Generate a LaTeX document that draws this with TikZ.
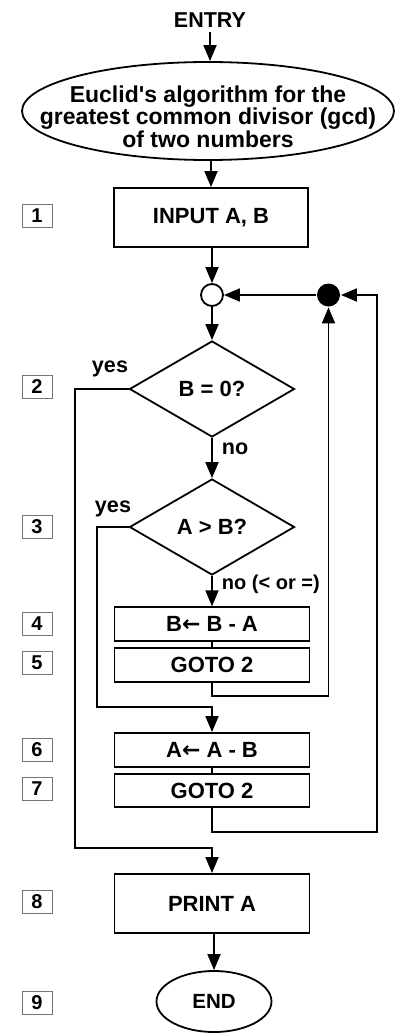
\documentclass[tikz,border=0pt]{standalone}
\usepackage{fontspec}
\setmainfont{Liberation Sans}
\newfontfamily\arrowfont{DejaVu Sans}
\usetikzlibrary{arrows.meta,shapes.geometric}
% leftwards assignment arrow used inside the step boxes
\newcommand{\assign}{{\arrowfont\bfseries ←}}
\begin{document}
\begin{tikzpicture}[x=1pt,y=-1pt,
  line width=1.8pt,
  every node/.style={font=\fontsize{22}{22}\selectfont\bfseries, inner sep=0pt},
  flow/.style={-{Triangle[length=16pt,width=13pt]}},
  stepbox/.style={draw, minimum width=195pt},
  decision/.style={diamond, draw, minimum width=165pt, minimum height=96pt, aspect=1.72},
  numtag/.style={draw=black!55, line width=1pt, minimum width=30pt, minimum height=23pt,
                 font=\fontsize{20}{20}\selectfont\bfseries},
  lbl/.style={font=\fontsize{21.6}{21.6}\selectfont\bfseries},
  ]
\useasboundingbox (0,0) rectangle (394,1033);

% start and title
\node[font=\fontsize{21.5}{21.5}\selectfont\bfseries] (entry) at (210,20) {ENTRY};
\node[ellipse, draw, minimum width=372pt, minimum height=98pt] (title) at (208,111) {};
\node[align=center, font=\fontsize{23}{21.5}\selectfont\bfseries] (titletext) at (208,116.5)
  {Euclid\textquotesingle s algorithm for the\\greatest common divisor (gcd)\\of two numbers};

% steps
\node[draw, minimum width=194pt, minimum height=59pt] (input) at (211,217.5) {INPUT A, B};
\node[circle, draw, minimum size=22pt] (j1) at (212,295) {};
\node[circle, fill, minimum size=23pt] (j2) at (328.5,295) {};
\node[decision] (d1) at (212,389) {B = 0?};
\node[decision] (d2) at (212,527) {A > B?};
\node[stepbox, minimum height=33.5pt] (b4) at (212,624) {B\assign\ B - A};
\node[stepbox, minimum height=33.5pt] (b5) at (212,665) {GOTO 2};
\node[stepbox, minimum height=34pt] (b6) at (212,750) {A\assign\ A - B};
\node[stepbox, minimum height=33pt] (b7) at (212,790.5) {GOTO 2};
\node[stepbox, minimum height=59pt] (b8) at (212,903.5) {PRINT A};
\node[ellipse, draw, minimum width=115pt, minimum height=61pt,
      font=\fontsize{20.5}{20.5}\selectfont\bfseries] (stop) at (214,1001.5) {END};

% branch labels
\node[lbl] (yes1) at (110,368.5) {yes};
\node[lbl] (yes2) at (113,509) {yes};
\node[lbl, anchor=west] (no1) at (221,448.5) {no};
\node[lbl, anchor=west, font=\fontsize{20}{20}\selectfont\bfseries] (no2) at (221,584) {no (< or =)};

% step numbers
\node[numtag] (n1) at (37,215.5) {1};
\node[numtag] (n2) at (37,387) {2};
\node[numtag] (n3) at (37,526.5) {3};
\node[numtag] (n4) at (37,624) {4};
\node[numtag] (n5) at (37,663) {5};
\node[numtag] (n6) at (37,749.5) {6};
\node[numtag] (n7) at (37,788.5) {7};
\node[numtag] (n8) at (37,901.5) {8};
\node[numtag] (n9) at (37,1003) {9};

% bend points of the loops
\coordinate (y1) at (75,848);
\coordinate (y2) at (97,707);
\coordinate (r1) at (328.5,696);
\coordinate (r2) at (377,832);

% connectors
\draw[flow, shorten <=4pt] (entry) -- (entry |- title.north);
\draw[flow] (input.north |- title.south) -- (input.north);
\draw[flow] (input.south -| j1) -- (j1);
\draw[flow] (j2) -- (j1);
\draw[flow] (j1) -- (d1);
\draw[flow] (d1) -- (d2);
\draw[flow] (d2) -- (b4);
\draw (b4) -- (b5);
\draw (b6) -- (b7);
\draw[flow] (d1.west) -| (y1) -| (b8.north);
\draw[flow] (d2.west) -| (y2) -| (b6.north);
\draw[flow] (b5.south) |- (r1) -- (j2);
\draw[flow] (b7.south) |- (r2) |- (j2);
\draw[flow] (b8.south -| stop) -- (stop);
\end{tikzpicture}
\end{document}
